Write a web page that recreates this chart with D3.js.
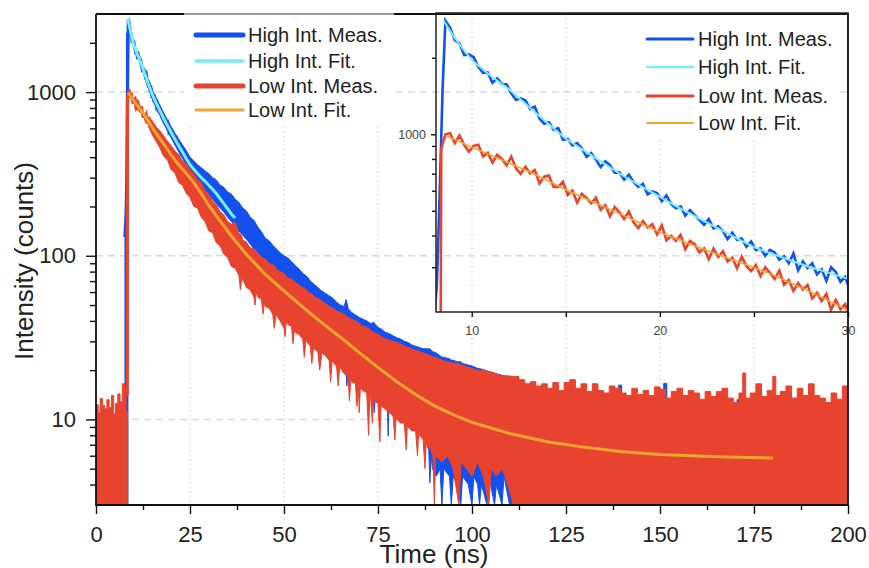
<!DOCTYPE html>
<html>
<head>
<meta charset="utf-8">
<script src="https://cdn.jsdelivr.net/npm/d3@7"></script>
<style>
  body { margin: 0; background: #fff; }
  svg { font-family: Arial, "Liberation Sans", sans-serif; }
</style>
</head>
<body>
<svg id="chart" width="869" height="568"></svg>
<script>
// ---- data ----
const seriesNames = ['High Int. Meas.', 'High Int. Fit.', 'Low Int. Meas.', 'Low Int. Fit.'];

// fitted curves [t (ns), counts]
const highFit = [[8.5,2800],[9,2450],[9.5,2180],[10,1960],[11,1700],[12,1500],[13,1290],[14,1110],[15,960],
  [16,860],[17,770],[18,690],[19,625],[20,567],[21,515],[22,470],[23,430],[24,393],[25,360],[26,338],
  [27,318],[28,300],[29,285],[30,270],[32,240],[34,208],[36,180],[37,170]];
const lowFit = [[8.6,990],[9,960],[10,890],[11,830],[12,770],[13,715],[14,660],[15,605],[16,560],[17,520],
  [18,482],[19,446],[20,412],[22,360],[24,318],[25,299],[26,280],[28,240],[30,203],[32,175],[34,152],
  [36,132],[38,116],[40,102],[45,77],[50,61],[55,48.5],[60,39],[65,31.8],[70,25.6],[75,20.8],[80,17],
  [85,14.2],[90,12.1],[95,10.7],[100,9.6],[110,8.2],[120,7.3],[130,6.75],[140,6.35],[150,6.1],[160,5.97],
  [170,5.88],[180,5.82]];

// measured traces around the peak [t, counts]
const highTrace = [[7.7,130],[8.0,180],[8.15,260],[8.3,600],[8.45,1500],[8.6,2800],[8.85,2623],[9.1,2345],
  [9.35,2277],[9.6,2048],[9.85,2063],[10.1,2009],[10.35,1843],[10.6,1744],[10.85,1751],[11.1,1595],
  [11.35,1659],[11.6,1578],[11.85,1574],[12.1,1449],[12.35,1365],[12.6,1385],[12.85,1361],[13.1,1258],
  [13.35,1286],[13.6,1154],[13.85,1101],[14.1,1116],[14.35,1043],[14.6,1057],[14.85,951],[15.1,958],
  [15.35,905],[15.6,924],[15.85,882],[16.1,815],[16.35,843],[16.6,796],[16.85,743],[17.1,783],[17.35,756],
  [17.6,707],[17.85,708],[18.1,663],[18.35,694],[18.6,650],[18.85,621],[19.1,638],[19.35,580],[19.6,596],
  [19.85,587],[20.1,545],[20.35,575],[20.6,531],[20.85,512],[21.1,521],[21.35,479],[21.6,503],[21.85,481],
  [22.1,461],[22.35,441],[22.6,464],[22.85,427],[23.1,435],[23.35,416],[23.6,387],[23.85,410],[24.1,385],
  [24.35,389],[24.6,361],[24.85,379],[25.1,350],[25.35,356],[25.6,333],[25.85,351],[26.1,343],[26.35,321],
  [26.6,331],[26.85,311],[27.1,340],[27.35,292],[27.6,316],[27.85,298],[28.1,311],[28.35,281],[28.6,294],
  [28.85,265],[29.1,300],[29.35,287],[29.6,263],[29.85,275],[30.1,244]];
const lowTrace = [[8.3,14],[8.38,880],[8.6,1000],[8.85,1010],[9.1,924],[9.35,990],[9.6,907],[9.85,854],
  [10.1,901],[10.35,910],[10.6,819],[10.85,846],[11.1,775],[11.35,831],[11.6,800],[11.85,755],[12.1,817],
  [12.35,735],[12.6,699],[12.85,745],[13.1,702],[13.35,723],[13.6,641],[13.85,681],[14.1,688],[14.35,621],
  [14.6,621],[14.85,651],[15.1,577],[15.35,601],[15.6,538],[15.85,583],[16.1,562],[16.35,535],[16.6,563],
  [16.85,505],[17.1,526],[17.35,476],[17.6,517],[17.85,493],[18.1,465],[18.35,497],[18.6,451],[18.85,428],
  [19.1,456],[19.35,430],[19.6,443],[19.85,404],[20.1,438],[20.35,383],[20.6,399],[20.85,381],[21.1,402],
  [21.35,353],[21.6,381],[21.85,370],[22.1,343],[22.35,356],[22.6,323],[22.85,355],[23.1,329],[23.35,347],
  [23.6,316],[23.85,327],[24.1,297],[24.35,330],[24.6,303],[24.85,290],[25.1,306],[25.35,277],[25.6,300],
  [25.85,285],[26.1,270],[26.35,291],[26.6,256],[26.85,267],[27.1,242],[27.35,260],[27.6,245],[27.85,255],
  [28.1,226],[28.35,238],[28.6,221],[28.85,236],[29.1,204],[29.35,223],[29.6,205],[29.85,215],[30.1,189]];

// measured noise envelope before the pulse [t, low edge, high edge]
const highPreBand = [[0,3,10],[7.7,3,130],[8.1,3,2300],[8.5,3,2300]];
const lowPreBand = [[0,3,12.3],[0.6,3,11],[1.1,3,13.4],[1.7,3,12.2],[2.3,3,11.6],[2.9,3,13.2],[3.5,3,11.8],
  [4.1,3,14],[4.7,3,10.8],[5.2,3,12.5],[5.8,3,14.3],[6.4,3,12.8],[7.0,3,16.5],[7.6,3,15.3],[8.0,3,11.2],
  [8.4,3,11.2]];

// measured noise envelope of the decay [t, low edge, high edge]
const highDecayBand = [[14,1040,1190],[15,900,1030],[16,805,925],[17,720,830],[18,640,745],[19,585,675],
  [20,525,615],[21,475,560],[22,430,515],[23,395,475],[24,360,440],[25,325,400],[26,305,380],[27,285,360],
  [28,265,345],[29,250,330],[30,235,318],[31,222,300],[32,208,290],[33,196,270],[34,185,262],[35,172,245],
  [36,162,238],[37,152,222],[38,142,212],[39,134,196],[40,126,188],[41,118,172],[42,110,165],[43,104,150],
  [44,98,140],[45,90,128],[46,86,124],[47,80,116],[48,72,110],[49,68,104],[50,62,100],[51,56,97],[52,52,92],
  [53,48,87],[54,44,83],[55,40,78],[56,36,75],[57,33,70],[58,30,67],[59,28,64],[60,26,61],[61,25,59],
  [62,24,57],[63,23,55],[64,22,52],[65,21,50],[66,20,49],[66.5,19.5,54],[66.7,16,52],[67.1,19,47.5],
  [68,18,45],[69,17.5,43.5],[70,17,42],[71,16.5,41],[72,15.5,40],[73,15,38.5],[73.7,14.5,39],[74,11,39],
  [74.3,14,38],[75,13.5,36.5],[76,13,35.5],[77,12.5,34],[77.5,12,33.8],[77.7,7.9,33.6],[77.9,12,33.5],
  [79,11.5,32.5],[80,11,31.5],[81,10.5,31],[82,10,30],[83,9.8,29.5],[84,9.5,28.5],[85,9,28],[86,8.5,27.5],
  [87,8,27],[88,7,27],[88.5,6.5,27],[88.8,4.1,27],[89.1,6,26.5],[89.5,5,26],[90.5,4.5,25.5],[91.5,5,24.5],
  [92,3,24],[92.5,5,24],[94,4.5,23.5],[94.5,3,23],[95,4.5,23],[96,4,22.5],[97,3,22.5],[97.5,4.5,22],
  [99,4,21.5],[100,3,21.2],[100.5,4.5,21],[101.5,4,20.5],[102,3,20.5],[102.5,4,20.3],[104,3,19.8],
  [104.5,4.5,19.6],[106,3,19.2],[106.5,4,19],[108,3,18.6],[108.5,4.5,18.4],[110,3,17.8],[112,3,17]];
const lowDecayBand = [[14,615,705],[15,545,665],[16,500,612],[17,455,580],[18,405,540],[19,385,500],
  [20,335,470],[21,320,435],[22,280,415],[23,270,380],[24,240,365],[25,228,335],[26,200,318],[27,196,292],
  [28,172,280],[29,162,250],[30,142,238],[31,138,215],[32,120,205],[33,115,186],[34,102,178],[35,98,162],
  [36,86,156],[37,84,160],[38,76,138],[38.4,62,136],[38.8,74,132],[39,72,125],[40,64,121],[41,62,112],
  [42,56,110],[42.3,50,109],[42.6,60,106],[43,56,104],[44,54,98],[44.4,44,97],[44.8,52,96],[45,49,96],
  [46,48,90],[47,44,88],[47.4,36,87],[47.8,43,85],[48,43,82],[49,40,80],[50,36,78],[50.3,32,77],
  [50.6,40,75],[51,38,73],[52,37,72],[52.4,29,71],[52.8,36,70],[53,34,69],[54,33,66],[55,31,64],
  [55.4,24,63.5],[55.8,30,62],[56,30,61],[57,28,59],[57.4,22,58.5],[57.8,27,57],[58,27,56],[59,26,55],
  [59.5,20,54],[60.1,25.5,53],[61,24.5,51],[62,23,49],[62.4,17,48.6],[62.8,22.5,48.2],[63,22.5,48],
  [64,21,46],[64.4,16,45.6],[64.8,21,45.2],[65,20.5,45],[66,19,44],[67,18.5,42],[67.4,13,41.6],
  [67.8,18,41.2],[68,17,41],[69,16.5,40],[69.4,12,39.5],[69.8,16,39],[70,11,38.5],[70.3,15.5,38.2],
  [71,15,37],[72,14.5,36.5],[72.5,8,36],[72.8,14,35.5],[73,14,35],[73.5,9.5,34.5],[73.8,13.5,34.2],
  [74,13,34],[75,12.5,33],[75.5,7.3,32.5],[75.8,12,32.2],[76,12,32],[77,11.5,31],[78,11,30.5],[79,10.5,30],
  [79.5,7.5,29.8],[79.8,10.2,29.6],[80,10,29.5],[81,9.5,29],[82,9.5,28],[82.5,6.5,27.8],[82.8,9.2,27.6],
  [83,9,27.5],[84,8.5,27],[85,8.5,26.5],[85.5,6,26.3],[85.8,8.2,26.1],[86,8,26],[87,7.5,25.5],[87.5,5,25.3],
  [87.8,7.2,25.1],[88,7,25],[89,6.5,24.5],[89.6,6,24],[90,3,24],[90.3,6,24],[92,5.5,23],[93.5,6,22.5],
  [95,5,22],[96.5,3,22],[97.1,5.5,21.5],[98.5,5,21],[100,4.5,20.5],[101.5,5.5,20],[103,4.5,20],
  [104.5,3,19.5],[105.1,5,19.5],[106.5,4.5,19],[108,5,18.5],[109.5,4,18.5],[111,3,18.3]];

// measured noise envelope of the flat tail [t, low edge, high edge]
const highTailBand = [[112,3,17],[114,3,13],[115.5,3,16.5],[116.2,3,13],[139,3,16.2],[139.8,3,13],
  [151,3,16.6],[151.8,3,13],[165,3,14.5],[165.8,3,12],[170.5,3,13.2],[171.2,3,12],[200,3,12]];
const lowTailBand = [[111,3,18.3],[112.5,3,17.5],[114,3,16.5],[115.5,3,17],[117,3,16],
  [118.5,3,16.5],[120,3,15.5],[121.5,3,16.8],[123,3,15],[124.5,3,16.8],[126,3,17.5],[127.5,3,15.5],
  [129,3,16.5],[130.5,3,14.8],[132,3,16.5],[133.5,3,15],[135,3,14.5],[136.5,3,16],[138,3,15.5],
  [139.5,3,14.5],[141,3,14],[142.5,3,15.5],[144,3,14.2],[145.5,3,15],[147,3,14],[148.5,3,15.8],
  [150,3,15.3],[151.5,3,13.5],[153,3,14.8],[154.5,3,15.5],[156,3,14],[157.5,3,15],[159,3,14.5],
  [160.5,3,13.3],[162,3,14.8],[163.5,3,13.8],[165,3,14.8],[166.5,3,15.5],[168,3,13.5],[169.5,3,12.7],
  [171,3,14.5],[172,3,19.2],[172.8,3,13.5],[174,3,14.5],[175.5,3,16.5],[177,3,13.8],[178.5,3,15],
  [180,3,18.3],[180.8,3,14],[182,3,14.8],[183.5,3,16],[185,3,13.5],[186.5,3,15.5],[188,3,14],
  [189.5,3,16.5],[191,3,14],[192.5,3,13.5],[194,3,12.7],[195.5,3,14.5],[197,3,13.3],[198.5,3,16],[200,3,14]];

// ticks
const xTicks = [0, 25, 50, 75, 100, 125, 150, 175, 200];
const xMinor = [12.5, 37.5, 62.5, 87.5, 112.5, 137.5, 162.5, 187.5];
const yTicks = [10, 100, 1000];
const yMinor = [4,5,6,7,8,9,20,30,40,50,60,70,80,90,200,300,400,500,600,700,800,900,2000];
const insetXTicks = [10, 20, 30];
const insetXMinor = [15, 25];
const insetYTicks = [1000];
const insetYMinor = [300,400,500,600,700,800,900,2000];

// ---- drawing ----
const colors = {high: '#1450ee', highFit: '#78eef6', low: '#e8432e', lowFit: '#efa52f'};

const svg = d3.select('#chart');

let x = d3.scaleLinear().domain([0, 200]).range([96, 848]);
let y = d3.scaleLog().domain([3, 3000]).range([505, 14]);
let ix = d3.scaleLinear().domain([8.1, 30]).range([436, 848]);
let iy = d3.scaleLog().domain([200, 3000]).range([312, 13]);

let defs = svg.append('defs');
defs.append('clipPath').attr('id', 'clipMain').append('rect')
  .attr('x', 96).attr('y', 14).attr('width', 752).attr('height', 491);
defs.append('clipPath').attr('id', 'clipInset').append('rect')
  .attr('x', 436).attr('y', 13).attr('width', 412).attr('height', 299);

// grid
svg.append('g').selectAll('line').data(yTicks).enter().append('line')
  .attr('x1', 96).attr('x2', 848)
  .attr('y1', d => y(d)).attr('y2', d => y(d))
  .attr('stroke', '#dadada').attr('stroke-width', 1.5).attr('stroke-dasharray', '7,5');
svg.append('g').selectAll('line').data(xTicks.slice(1, -1)).enter().append('line')
  .attr('x1', d => x(d)).attr('x2', d => x(d))
  .attr('y1', 14).attr('y2', 505)
  .attr('stroke', '#d4d4d4').attr('stroke-width', 1.2).attr('stroke-dasharray', '1.5,3');

// legend backgrounds
svg.append('rect').attr('x', 184).attr('y', 15).attr('width', 210).attr('height', 112).attr('fill', '#fff');
svg.append('rect').attr('x', 640).attr('y', 15).attr('width', 200).attr('height', 124).attr('fill', '#fff');

function bandPath(xs, ys, curve) {
  return d3.area().x(d => xs(d[0])).y0(d => ys(d[1])).y1(d => ys(d[2])).curve(curve);
}
function linePath(xs, ys) {
  return d3.line().x(d => xs(d[0])).y(d => ys(d[1]));
}
function drawBands(g, bands, color) {
  bands.forEach(function(b) {
    g.append('path').datum(b[0]).attr('d', bandPath(x, y, b[1]))
      .attr('fill', color).attr('stroke', color).attr('stroke-width', 1);
  });
}

// main plot
let main = svg.append('g').attr('clip-path', 'url(#clipMain)');
drawBands(main, [[highPreBand, d3.curveStepAfter], [highDecayBand, d3.curveLinear],
  [highTailBand, d3.curveStepAfter]], colors.high);
main.append('path').datum(highTrace).attr('d', linePath(x, y))
  .attr('fill', 'none').attr('stroke', colors.high).attr('stroke-width', 3.2);
main.append('path').datum(highFit).attr('d', linePath(x, y))
  .attr('fill', 'none').attr('stroke', colors.highFit).attr('stroke-width', 3);
drawBands(main, [[lowPreBand, d3.curveStepAfter], [lowDecayBand, d3.curveLinear],
  [lowTailBand, d3.curveStepAfter]], colors.low);
main.append('path').datum(lowTrace).attr('d', linePath(x, y))
  .attr('fill', 'none').attr('stroke', colors.low).attr('stroke-width', 3.2);
main.append('path').datum(lowFit).attr('d', linePath(x, y))
  .attr('fill', 'none').attr('stroke', colors.lowFit).attr('stroke-width', 3);

// inset plot
let inset = svg.append('g').attr('clip-path', 'url(#clipInset)');
inset.append('path').datum(highTrace).attr('d', linePath(ix, iy))
  .attr('fill', 'none').attr('stroke', colors.high).attr('stroke-width', 2.6);
inset.append('path').datum(highFit).attr('d', linePath(ix, iy))
  .attr('fill', 'none').attr('stroke', colors.highFit).attr('stroke-width', 2);
inset.append('path').datum(lowTrace).attr('d', linePath(ix, iy))
  .attr('fill', 'none').attr('stroke', colors.low).attr('stroke-width', 2.6);
inset.append('path').datum(lowFit).attr('d', linePath(ix, iy))
  .attr('fill', 'none').attr('stroke', colors.lowFit).attr('stroke-width', 1.6);

// axes
function styleAxis(g, size, color) {
  g.select('.domain').remove();
  g.selectAll('line').attr('stroke', '#111').attr('stroke-width', 1.4);
  g.selectAll('text').attr('font-size', size).attr('fill', color);
}
svg.append('g').attr('transform', 'translate(0,505)')
  .call(d3.axisBottom(x).tickValues(xTicks).tickSize(9).tickPadding(12).tickFormat(d3.format('d')))
  .call(g => styleAxis(g, 22, '#222'));
svg.append('g').attr('transform', 'translate(0,505)')
  .call(d3.axisBottom(x).tickValues(xMinor).tickSize(5).tickFormat(''))
  .call(g => styleAxis(g, 22, '#222'));
svg.append('g').attr('transform', 'translate(96,0)')
  .call(d3.axisLeft(y).tickValues(yTicks).tickSize(10).tickPadding(10).tickFormat(d3.format('d')))
  .call(g => styleAxis(g, 22, '#222'));
svg.append('g').attr('transform', 'translate(96,0)')
  .call(d3.axisLeft(y).tickValues(yMinor).tickSize(6).tickFormat(''))
  .call(g => styleAxis(g, 22, '#222'));

svg.append('g').attr('transform', 'translate(0,312)')
  .call(d3.axisBottom(ix).tickValues(insetXTicks).tickSize(5).tickPadding(9).tickFormat(d3.format('d')))
  .call(g => styleAxis(g, 12.5, '#444'));
svg.append('g').attr('transform', 'translate(0,312)')
  .call(d3.axisBottom(ix).tickValues(insetXMinor).tickSize(5).tickFormat(''))
  .call(g => styleAxis(g, 12.5, '#444'));
svg.append('g').attr('transform', 'translate(436,0)')
  .call(d3.axisLeft(iy).tickValues(insetYTicks).tickSize(5).tickPadding(5).tickFormat(d3.format('d')))
  .call(g => styleAxis(g, 12.5, '#444'));
svg.append('g').attr('transform', 'translate(436,0)')
  .call(d3.axisLeft(iy).tickValues(insetYMinor).tickSize(4).tickFormat(''))
  .call(g => styleAxis(g, 12.5, '#444'));

// frames
let frame = svg.append('g').attr('fill', 'none');
frame.append('path').attr('d', 'M96,14V505H848V14H96').attr('stroke', '#111').attr('stroke-width', 1.8);
frame.append('line').attr('x1', 184).attr('x2', 394).attr('y1', 14).attr('y2', 14)
  .attr('stroke', '#9a9a9a').attr('stroke-width', 2);
frame.append('rect').attr('x', 436).attr('y', 13).attr('width', 412).attr('height', 299)
  .attr('stroke', '#222').attr('stroke-width', 1.5);

// titles
svg.append('text').attr('x', 434).attr('y', 563).attr('text-anchor', 'middle')
  .attr('font-size', 26).attr('fill', '#222').text('Time (ns)');
svg.append('text').attr('transform', 'translate(33,261) rotate(-90)').attr('text-anchor', 'middle')
  .attr('font-size', 26).attr('fill', '#222').text('Intensity (counts)');

// legends
const legendColors = [colors.high, colors.highFit, colors.low, colors.lowFit];
function drawLegend(x0, x1, rows, widths) {
  let g = svg.append('g');
  seriesNames.forEach(function(name, i) {
    g.append('line').attr('x1', x0).attr('x2', x1).attr('y1', rows[i]).attr('y2', rows[i])
      .attr('stroke', legendColors[i]).attr('stroke-width', widths[i]).attr('stroke-linecap', 'round');
    g.append('text').attr('x', x1 + 5).attr('y', rows[i]).attr('dy', '0.36em')
      .attr('font-size', 20).attr('fill', '#222').text(name);
  });
}
drawLegend(196, 243, [35, 61, 86, 110], [5, 3.5, 5, 3]);
drawLegend(647, 693, [39, 67, 96, 123], [3, 2.5, 3, 2.2]);
</script>
</body>
</html>
